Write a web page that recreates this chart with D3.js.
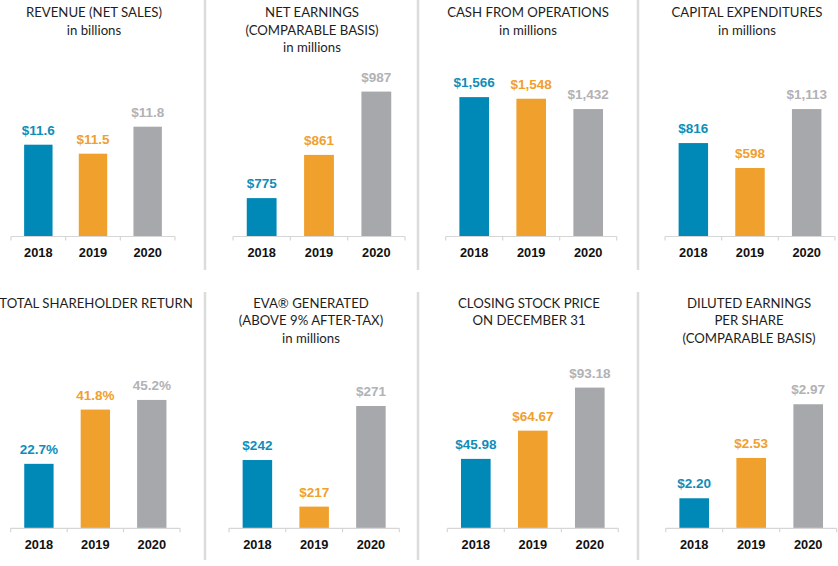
<!DOCTYPE html>
<html>
<head>
<meta charset="utf-8">
<script src="https://cdn.jsdelivr.net/npm/d3@7"></script>
<style>
  html, body { margin: 0; padding: 0; background: #fff; }
  svg { display: block; }
</style>
</head>
<body>
<svg id="chart" width="838" height="566"></svg>
<script>
// ---------- DATA ----------
const years = ["2018", "2019", "2020"];

const revenue        = [11.6, 11.5, 11.8];
const netEarnings    = [775, 861, 987];
const cashFromOps    = [1566, 1548, 1432];
const capex          = [816, 598, 1113];
const tsr            = [22.7, 41.8, 45.2];
const evaGenerated   = [242, 217, 271];
const stockPrice     = [45.98, 64.67, 93.18];
const dilutedEps     = [2.20, 2.53, 2.97];

const titleRevenue  = ["REVENUE (NET SALES)", "in billions"];
const titleEarnings = ["NET EARNINGS", "(COMPARABLE BASIS)", "in millions"];
const titleCash     = ["CASH FROM OPERATIONS", "in millions"];
const titleCapex    = ["CAPITAL EXPENDITURES", "in millions"];
const titleTsr      = ["TOTAL SHAREHOLDER RETURN"];
const titleEva      = ["EVA\u00AE GENERATED", "(ABOVE 9% AFTER-TAX)", "in millions"];
const titleStock    = ["CLOSING STOCK PRICE", "ON DECEMBER 31"];
const titleEps      = ["DILUTED EARNINGS", "PER SHARE", "(COMPARABLE BASIS)"];

const barColors   = ["#0089B7", "#F0A02D", "#A7A8AB"];
const labelColors = ["#0E8DB9", "#F0A02D", "#B1B2B5"];

// ---------- FORMATS ----------
const fmtDollar1  = d => "$" + d3.format(".1f")(d);
const fmtDollar0  = d => "$" + d3.format(",.0f")(d);
const fmtDollar2  = d => "$" + d3.format(".2f")(d);
const fmtPct1     = d => d3.format(".1f")(d) + "%";

// ---------- LAYOUT ----------
const rows = [
  { base: 236.5, top: 60,  titleY: 17.3,  lineH: 17.5, yearY: 257.2, sepTop: 0,   sepBot: 270 },
  { base: 528.3, top: 350, titleY: 307.5, lineH: 17.8, yearY: 549.2, sepTop: 292, sepBot: 560 }
];

const panels = [
  { title: titleRevenue,  values: revenue,      fmt: fmtDollar1, lo: 10.58, slope: 90,     x: [11, 175],      row: 0, tc: 94 },
  { title: titleEarnings, values: netEarnings,  fmt: fmtDollar0, lo: 698.6, slope: 0.5025, x: [233, 405],     row: 0, tc: 312 },
  { title: titleCash,     values: cashFromOps,  fmt: fmtDollar0, lo: 0,     slope: 0.089,  x: [445.7, 616.7], row: 0, tc: 528 },
  { title: titleCapex,    values: capex,        fmt: fmtDollar0, lo: 0,     slope: 0.1145, x: [665, 835],     row: 0, tc: 747 },
  { title: titleTsr,      values: tsr,          fmt: fmtPct1,    lo: 0,     slope: 2.84,   x: [10.7, 180],    row: 1, tc: 96 },
  { title: titleEva,      values: evaGenerated, fmt: fmtDollar0, lo: 205.35,slope: 1.863,  x: [229, 399.3],   row: 1, tc: 311 },
  { title: titleStock,    values: stockPrice,   fmt: fmtDollar2, lo: 0,     slope: 1.51,   x: [447.3, 618.3], row: 1, tc: 529 },
  { title: titleEps,      values: dilutedEps,   fmt: fmtDollar2, lo: 1.954, slope: 122.1,  x: [665.7, 836.7], row: 1, tc: 749 }
];

const separators = [205, 418, 638];

const svg = d3.select("#chart");

// separators
rows.forEach(r => {
  svg.append("g").selectAll("line").data(separators).join("line")
    .attr("x1", d => d).attr("x2", d => d)
    .attr("y1", r.sepTop).attr("y2", r.sepBot)
    .attr("stroke", "#dcdcdc").attr("stroke-width", 2.5);
});

panels.forEach(p => {
  const r = rows[p.row];
  const g = svg.append("g");

  const x = d3.scaleBand().domain(years).range(p.x).paddingInner(0.48).paddingOuter(0.24);
  const hi = p.lo + (r.base - r.top) / p.slope;
  const y = d3.scaleLinear().domain([p.lo, hi]).range([r.base, r.top]);

  // title
  const t = g.append("text")
    .attr("text-anchor", "middle")
    .attr("font-family", "Lato, 'Open Sans', sans-serif")
    .attr("font-size", 13.2)
    .attr("fill", "#1e1e1e");
  p.title.forEach((line, i) => {
    t.append("tspan").attr("x", p.tc).attr("y", r.titleY + i * r.lineH).text(line);
  });

  // bars
  g.append("g").selectAll("rect").data(p.values).join("rect")
    .attr("x", (d, i) => x(years[i]))
    .attr("width", x.bandwidth())
    .attr("y", d => y(d))
    .attr("height", d => r.base - y(d))
    .attr("fill", (d, i) => barColors[i]);

  // value labels
  g.append("g").selectAll("text").data(p.values).join("text")
    .attr("x", (d, i) => x(years[i]) + x.bandwidth() / 2)
    .attr("y", d => y(d) - 10)
    .attr("text-anchor", "middle")
    .attr("font-family", "'Liberation Sans', Arial, sans-serif")
    .attr("font-weight", "bold")
    .attr("font-size", 13.5)
    .attr("fill", (d, i) => labelColors[i])
    .text(d => p.fmt(d));

  // axis
  const axis = d3.axisBottom(x).tickSize(0).tickSizeOuter(0).tickPadding(0);
  const ag = g.append("g").attr("transform", `translate(0,${r.base})`).call(axis);
  ag.select(".domain").attr("stroke", "#d6d6d6").attr("stroke-width", 1.2)
    .attr("d", `M${p.x[0]},0H${p.x[1]}`);
  ag.selectAll(".tick text")
    .attr("y", r.yearY - r.base).attr("dy", 0)
    .attr("font-family", "'Liberation Sans', Arial, sans-serif")
    .attr("font-weight", "bold")
    .attr("font-size", 12.8)
    .attr("fill", "#111");
  // boundary ticks between categories
  const bounds = d3.range(4).map(i => p.x[0] + i * (p.x[1] - p.x[0]) / 3);
  ag.append("g").selectAll("line").data(bounds).join("line")
    .attr("x1", d => d).attr("x2", d => d)
    .attr("y1", 0).attr("y2", 4)
    .attr("stroke", "#d6d6d6").attr("stroke-width", 1.2);
});
</script>
</body>
</html>
